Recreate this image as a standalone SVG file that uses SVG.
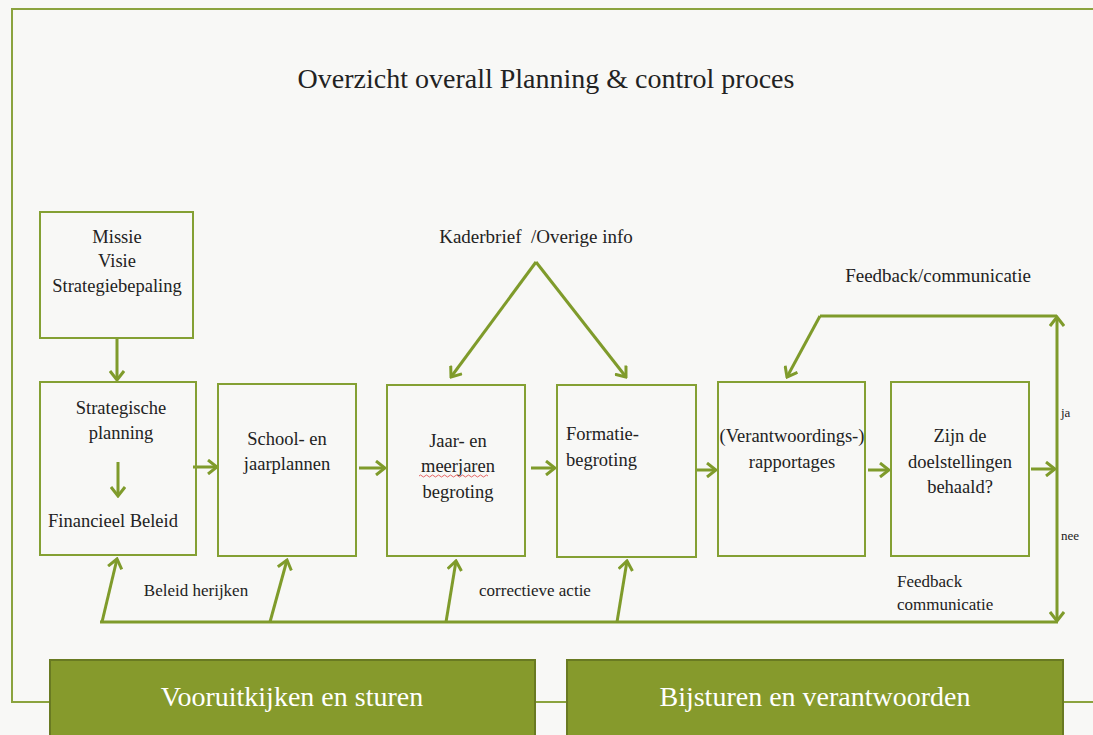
<svg xmlns="http://www.w3.org/2000/svg" width="1093" height="735" viewBox="0 0 1093 735">
<style>
.frame{fill:none;stroke:#8ba33e;stroke-width:2}
.box{fill:none;stroke:#84a033;stroke-width:2}
.ln{fill:none;stroke:#7f9b2b;stroke-width:3}
.arr{fill:none;stroke:#7f9b2b;stroke-width:3;marker-end:url(#chev)}
.t{font-family:"Liberation Serif",serif;fill:#222;font-size:18.5px}
.c{text-anchor:middle}
.title{font-size:28px}
.lb{font-size:19px}
.s{font-size:17px}
.xs{font-size:13px}
.band{fill:#869a2c;stroke:#697a22;stroke-width:2}
.bt{font-family:"Liberation Serif",serif;fill:#ffffff;font-size:28px;text-anchor:middle}
</style>
<defs>
<marker id="chev" viewBox="0 0 12 16" refX="10" refY="8" markerWidth="12" markerHeight="16" markerUnits="userSpaceOnUse" orient="auto">
<path d="M1,1 L10,8 L1,15" fill="none" stroke="#7f9b2b" stroke-width="3"/>
</marker>
</defs>
<rect width="1093" height="735" fill="#f8f8f6"/>
<g id="frame">
<path class="frame" d="M1093,9 H12 V702 H50 M535,702 H567 M1063,702 H1093"/>
</g>
<text class="t c title" x="546" y="88">Overzicht overall Planning &amp; control proces</text>
<g id="connectors">
<path class="arr" d="M117,338 V380"/>
<path class="arr" d="M118,462 V496"/>
<path class="arr" d="M193,467 H217"/>
<path class="arr" d="M359,468 H385"/>
<path class="arr" d="M531,468 H555"/>
<path class="arr" d="M697,470 H716"/>
<path class="arr" d="M868,470 H889"/>
<path class="arr" d="M1031,469 H1055"/>
<path class="arr" d="M1057,469 V317"/>
<path class="arr" d="M1057,469 V621"/>
<path class="ln" d="M1057,316 H820"/>
<path class="arr" d="M820,316 L787,377"/>
<path class="ln" d="M100,622 H1058"/>
<path class="arr" d="M102,622 L117,559"/>
<path class="arr" d="M270,622 L287,560"/>
<path class="arr" d="M446,622 L456,561"/>
<path class="arr" d="M617,622 L627,561"/>
<path class="arr" d="M536,262 L451,377"/>
<path class="arr" d="M536,262 L626,377"/>
</g>
<g id="n-missie">
<rect class="box" x="40" y="212" width="153" height="126"/>
<text class="t c" x="117" y="243">Missie</text>
<text class="t c" x="117" y="267">Visie</text>
<text class="t c" x="117" y="292">Strategiebepaling</text>
</g>
<g id="n-strategisch">
<rect class="box" x="40" y="382" width="156" height="173"/>
<text class="t c" x="121" y="414">Strategische</text>
<text class="t c" x="121" y="439">planning</text>
<text class="t" x="48" y="527">Financieel Beleid</text>
</g>
<g id="n-school">
<rect class="box" x="218" y="384" width="138" height="172"/>
<text class="t c" x="287" y="445">School- en</text>
<text class="t c" x="287" y="470">jaarplannen</text>
</g>
<g id="n-jaar">
<rect class="box" x="387" y="385" width="138" height="171"/>
<text class="t c" x="458" y="447">Jaar- en</text>
<text class="t c" x="458" y="472">meerjaren</text>
<path d="M419,476 q1.5,-2 3,0 t3,0 t3,0 t3,0 t3,0 t3,0 t3,0 t3,0 t3,0 t3,0 t3,0 t3,0 t3,0 t3,0 t3,0 t3,0 t3,0 t3,0 t3,0 t3,0 t3,0 t3,0 t3,0" fill="none" stroke="#e04040" stroke-width="0.8"/>
<text class="t c" x="458" y="498">begroting</text>
</g>
<g id="n-formatie">
<rect class="box" x="557" y="385" width="139" height="172"/>
<text class="t" x="566" y="440">Formatie-</text>
<text class="t" x="566" y="466">begroting</text>
</g>
<g id="n-verantw">
<rect class="box" x="718" y="382" width="147" height="174"/>
<text class="t c" x="792" y="442">(Verantwoordings-)</text>
<text class="t c" x="792" y="468">rapportages</text>
</g>
<g id="n-zijn">
<rect class="box" x="891" y="382" width="138" height="174"/>
<text class="t c" x="960" y="442">Zijn de</text>
<text class="t c" x="960" y="468">doelstellingen</text>
<text class="t c" x="960" y="493">behaald?</text>
</g>
<g id="labels">
<text class="t c lb" x="536" y="243" xml:space="preserve">Kaderbrief  /Overige info</text>
<text class="t c lb" x="938" y="282">Feedback/communicatie</text>
<text class="t xs" x="1061" y="417">ja</text>
<text class="t xs" x="1061" y="540">nee</text>
<text class="t s" x="897" y="587">Feedback</text>
<text class="t s" x="897" y="610">communicatie</text>
<text class="t s c" x="196" y="596">Beleid herijken</text>
<text class="t s c" x="535" y="596">correctieve actie</text>
</g>
<g id="band-vooruit">
<rect class="band" x="50" y="660" width="485" height="76"/>
<text class="bt" x="292" y="706">Vooruitkijken en sturen</text>
</g>
<g id="band-bijsturen">
<rect class="band" x="567" y="660" width="496" height="76"/>
<text class="bt" x="815" y="706">Bijsturen en verantwoorden</text>
</g>
</svg>
